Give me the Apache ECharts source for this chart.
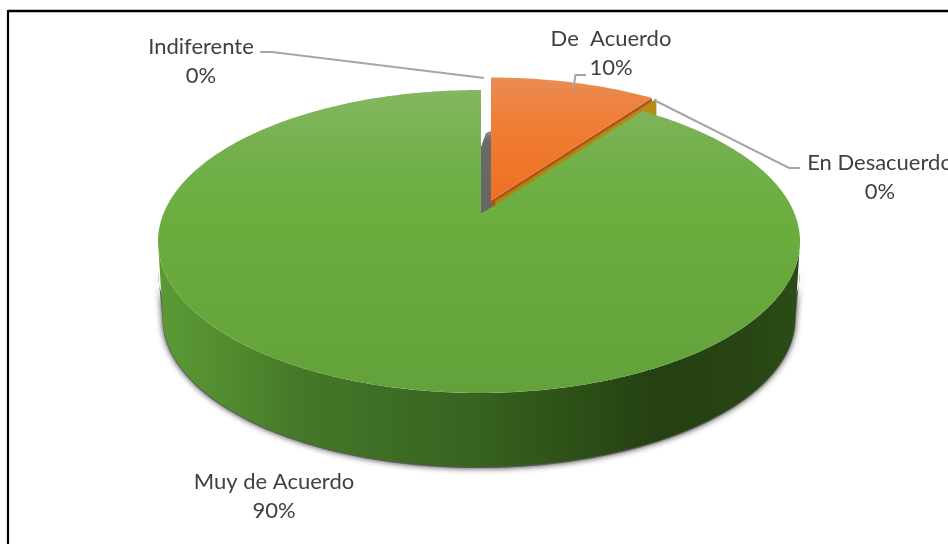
<!DOCTYPE html>
<html>
<head>
<meta charset="utf-8">
<style>html,body{margin:0;padding:0;background:#fff}#c{width:948px;height:544px}</style>
<script src="https://cdn.jsdelivr.net/npm/echarts@6/dist/echarts.min.js"></script>
</head>
<body>
<div id="c"></div>
<script>
// ---- data ----
const categories = ['De  Acuerdo', 'En Desacuerdo', 'Muy de Acuerdo', 'Indiferente'];
const values = [10, 0, 90, 0];
const percentLabels = ['10%', '0%', '90%', '0%'];

// ---- projection of the tilted disc ----
const K = 0.188, SX = 315.3, SY = 146.1, CX = 479, CY = 213;
const APEX_DX = 2;
const DEPTH = 76.7, BOTTOM_SCALE = 0.985;
const EXTREME = 100.8; // angle where the rim turns
function rim(deg, ox, oy, scale) {
  const t = deg * Math.PI / 180, w = 1 + K * Math.cos(t), s = scale || 1;
  return [CX + (ox || 0) + s * SX * Math.sin(t) / w, CY + (oy || 0) - s * SY * Math.cos(t) / w];
}
function arc(from, to, ox, oy, scale) {
  const pts = [], n = Math.max(1, Math.ceil(Math.abs(to - from)));
  for (let i = 0; i <= n; i++) pts.push(rim(from + (to - from) * i / n, ox, oy, scale));
  return pts;
}
const total = values.reduce((a, b) => a + b, 0);
const starts = [];
values.reduce((acc, v, i) => { starts[i] = acc; return acc + v / total * 360; }, 0);

const vGrad = (stops) => ({ type: 'linear', x: 0, y: 0, x2: 0, y2: 1, colorStops: stops.map(s => ({ offset: s[0], color: s[1] })) });
const hGrad = (stops) => ({ type: 'linear', x: 0, y: 0, x2: 1, y2: 0, colorStops: stops.map(s => ({ offset: s[0], color: s[1] })) });
const poly = (points, style, z2) => ({ type: 'polygon', z2: z2, shape: { points: points }, style: style });

const labelFont = { fontFamily: 'Lato, "Open Sans", sans-serif', fontSize: 22, fill: '#404040', lineHeight: 29 };
const labelPos = { 0: [611, 53], 1: [880, 177], 2: [274, 496], 3: [201, 61] };
const leaders = {
  0: [[573.5, 88], [575.5, 75], [586, 75]],
  1: [[654, 100], [789, 168], [800, 168]],
  3: [[260, 52], [272, 52], [484, 78]]
};

function renderSlice(params, api) {
  const i = params.dataIndex;
  const val = api.value(1), a0 = starts[i], a1 = a0 + val / total * 360;
  const kids = [];
  const ax = CX + APEX_DX;
  if (i === 0) {          // De Acuerdo: pulled out, wall below its cut edge
    const ox = 12, oy = -12.5, r = rim(a1, ox, oy);
    kids.push(poly([[CX + ox, CY + oy], r, [r[0], r[1] + DEPTH], [CX + ox, CY + oy + DEPTH]],
      { fill: '#b0541a' }, 2));
    kids.push(poly([[CX + ox, CY + oy]].concat(arc(a0, a1, ox, oy)),
      { fill: vGrad([[0, '#ea8c55'], [0.35, '#ef7e36'], [1, '#ee7022']]) }, 5));
  }
  if (i === 1) {          // En Desacuerdo: zero slice, only its wall shows
    const ox = 16.5, oy = -12, r = rim(a0, ox, oy);
    kids.push(poly([[CX + ox, CY + oy], r, [r[0], r[1] + DEPTH], [CX + ox, CY + oy + DEPTH]],
      { fill: vGrad([[0, '#b78b1f'], [0.2, '#b08a10'], [1, '#a88400']]) }, 3));
  }
  if (i === 3) {          // Indiferente: zero slice, only its wall shows
    kids.push(poly([[ax, CY + 1], [ax, CY - 66], [ax + 5, CY - 80], [ax + 10, CY - 82], [ax + 10, CY - 5]],
      { fill: vGrad([[0, '#8f8f8f'], [0.1, '#6a6a6a'], [1, '#666666']]) }, 1));
  }
  if (i === 2) {          // Muy de Acuerdo
    const wall = arc(EXTREME, 360 - EXTREME).concat(arc(360 - EXTREME, EXTREME, 0, DEPTH, BOTTOM_SCALE));
    const shade = arc(EXTREME, 360 - EXTREME, 0, DEPTH + 1, BOTTOM_SCALE * 1.001);
    kids.push(poly(arc(EXTREME, 360 - EXTREME, 0, 30).concat(shade.slice().reverse()), {
      fill: '#5a5a5a', shadowBlur: 6, shadowColor: 'rgba(50,50,50,1)'
    }, 4));
    kids.push(poly(wall, {
      fill: hGrad([[0, '#5c9a36'], [0.12, '#508a2e'], [0.22, '#457829'], [0.5, '#37621f'], [0.66, '#2c4f17'], [0.78, '#254011'], [0.9, '#274412'], [1, '#2c4c16']])
    }, 6));
    const s = rim(a0), e = rim(a1);
    kids.push(poly([[ax, CY + 1], [s[0] + APEX_DX, s[1] + 1]].concat(arc(a0, a1), [[e[0] + APEX_DX, e[1]]]),
      { fill: vGrad([[0, '#83b761'], [0.2, '#74b04c'], [0.4, '#6bae3f'], [1, '#63a13a']]) }, 7));
  }
  // label + leader line
  const lp = labelPos[i];
  kids.push({ type: 'text', z2: 10, style: Object.assign({
    x: lp[0], y: lp[1], text: categories[i] + '\n' + percentLabels[i], align: 'center', verticalAlign: 'middle'
  }, labelFont) });
  if (leaders[i]) kids.push({ type: 'polyline', z2: 10, shape: { points: leaders[i] },
    style: { fill: 'none', stroke: '#a6a6a6', lineWidth: 2 } });
  return { type: 'group', children: kids };
}

const chart = echarts.init(document.getElementById('c'), null, { renderer: 'canvas' });
chart.setOption({
  animation: false,
  backgroundColor: '#ffffff',
  graphic: [
    { type: 'line', z: 20, shape: { x1: 8, y1: 11, x2: 948, y2: 11 }, style: { stroke: '#000', lineWidth: 2.4 } },
    { type: 'line', z: 20, shape: { x1: 8, y1: 10, x2: 8, y2: 544 }, style: { stroke: '#000', lineWidth: 2.2 } }
  ],
  series: [{
    type: 'custom',
    coordinateSystem: 'none',
    data: categories.map((c, i) => [i, values[i]]),
    renderItem: renderSlice,
    silent: true,
    clip: false
  }]
});
</script>
</body>
</html>
